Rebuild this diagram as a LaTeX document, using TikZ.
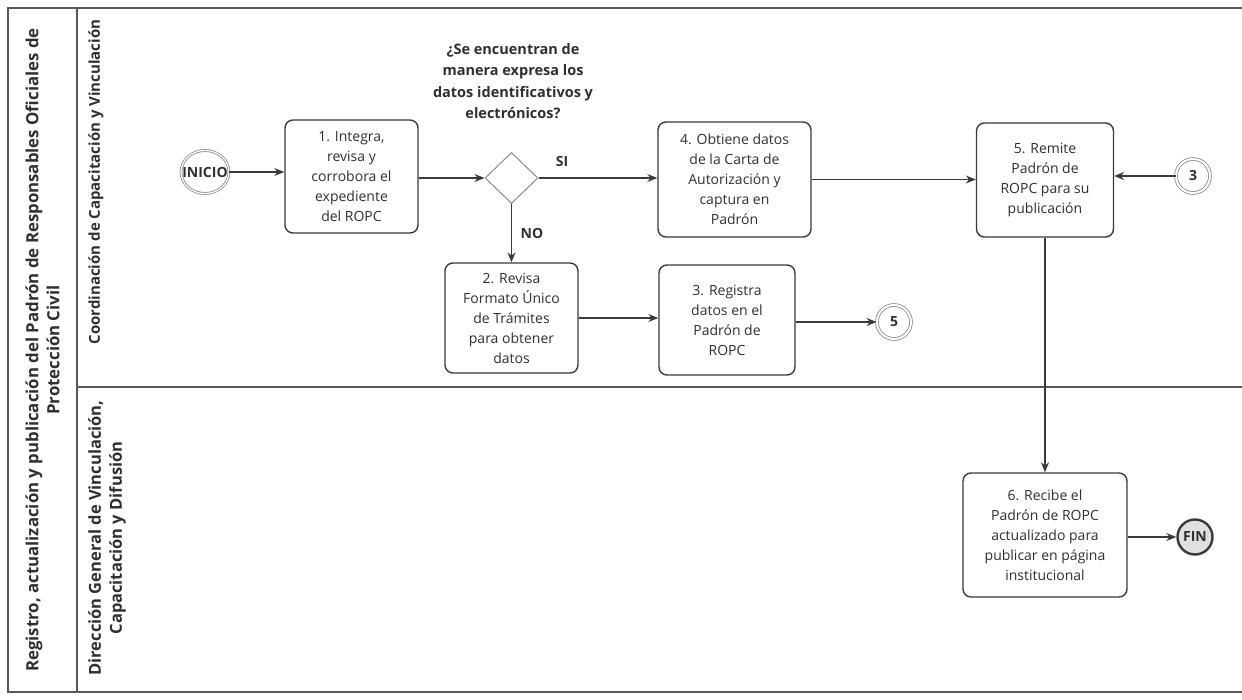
\documentclass[tikz,border=0pt]{standalone}
\usepackage{fontspec}
\setmainfont{Open Sans}
\usetikzlibrary{arrows.meta,shapes.geometric}

\definecolor{ink}{HTML}{3A3A3A}
\definecolor{txt}{HTML}{303030}
\definecolor{rim}{HTML}{8A8A8A}

\begin{document}
\begin{tikzpicture}[x=1pt,y=-1pt,
  font=\fontsize{14}{20}\selectfont,
  task/.style={draw=ink, line width=1.4pt, rounded corners=8pt, fill=white,
    align=center, text=txt, inner sep=0pt},
  flow/.style={draw=ink, line width=1.1pt, -{Stealth[length=10pt,width=8pt]}},
  linkev/.style={circle, draw=rim, line width=0.8pt, double=white, double distance=2pt,
    minimum size=34pt, inner sep=0pt, text=txt, font=\fontsize{14}{16}\selectfont\bfseries},
  lanebar/.style={draw=ink!85, line width=1.2pt},
  lanetitle/.style={rotate=90, align=center, text=txt, font=\fontsize{16.5}{21}\selectfont\bfseries},
  tag/.style={text=txt, font=\fontsize{14}{18}\selectfont\bfseries}
]
\useasboundingbox (0,0) rectangle (1242,700);

% pool frame and lanes
\draw[lanebar] (1242,8) -- (8,8) -- (8,692) -- (1242,692);
\draw[lanebar] (77,8) -- (77,692);
\draw[lanebar] (77,387) -- (1242,387);

\node[lanetitle, font=\fontsize{16.8}{21}\selectfont\bfseries] (pooltitle) at (42.5,350)
  {Registro, actualización y publicación del Padrón de Responsables Oficiales de\\Protección Civil};
\node[lanetitle, font=\fontsize{15}{21}\selectfont\bfseries] (lanea) at (96,182)
  {Coordinación de Capacitación y Vinculación};
\node[lanetitle] (laneb) at (107,538) {Dirección General de Vinculación,\\Capacitación y Difusión};

% start and end events
\node[ellipse, draw=rim, line width=0.8pt, double=white, double distance=1.2pt,
  minimum width=48pt, minimum height=43pt, inner sep=0pt] (ini) at (205,172) {};
\node[tag] (initxt) at (ini) {INICIO};
\node[circle, draw=ink, line width=2.4pt, fill=black!12, minimum size=35pt, inner sep=0pt,
  text=txt, font=\fontsize{14}{16}\selectfont\bfseries] (fin) at (1195,537) {FIN};

% tasks
\node[task, minimum width=133pt, minimum height=113pt] (b1) at (351.5,176.5)
  {1. Integra,\\revisa y\\corrobora el\\expediente\\del ROPC};
\node[task, minimum width=153pt, minimum height=115pt] (b4) at (734.5,179.5)
  {4. Obtiene datos\\de la Carta de\\Autorización y\\captura en\\Padrón};
\node[task, minimum width=137pt, minimum height=114pt] (b5) at (1045,180)
  {5. Remite\\Padrón de\\ROPC para su\\publicación};
\node[task, minimum width=133pt, minimum height=110pt] (b2) at (511.5,318)
  {2. Revisa\\Formato Único\\de Trámites\\para obtener\\datos};
\node[task, minimum width=136pt, minimum height=110pt] (b3) at (727,320)
  {3. Registra\\datos en el\\Padrón de\\ROPC};
\node[task, minimum width=164pt, minimum height=124pt] (b6) at (1045,535)
  {6. Recibe el\\Padrón de ROPC\\actualizado para\\publicar en página\\institucional};

% decision
\node[diamond, draw=rim, line width=1pt, fill=white, minimum width=53pt, minimum height=51pt,
  inner sep=0pt] (d) at (511.5,178) {};
\node[tag, align=center, font=\fontsize{14.5}{21.5}\selectfont\bfseries] (q) at (513,81)
  {¿Se encuentran de\\manera expresa los\\datos identificativos y\\electrónicos?};
\node[tag] (si) at (562,162) {SI};
\node[tag] (no) at (532,233) {NO};

% off-page links
\node[linkev] (c3) at (1193,176) {3};
\node[linkev] (c5) at (894,322) {5};

% sequence flows
\draw[flow] (ini.east) -- (ini.east -| b1.west);
\draw[flow] (b1.east |- d.west) -- (d.west);
\draw[flow] (d.east) -- (d.east -| b4.west);
\draw[flow] (d.south) -- (d.south |- b2.north);
\draw[flow] (b4.east) -- (b4.east -| b5.west);
\draw[flow] (c3.west) -- (c3.west -| b5.east);
\draw[flow] (b2.east) -- (b2.east -| b3.west);
\draw[flow] (b3.east |- c5.west) -- (c5.west);
\draw[flow] (b5.south) -- (b5.south |- b6.north);
\draw[flow] (b6.east |- fin.west) -- (fin.west);
\end{tikzpicture}
\end{document}
